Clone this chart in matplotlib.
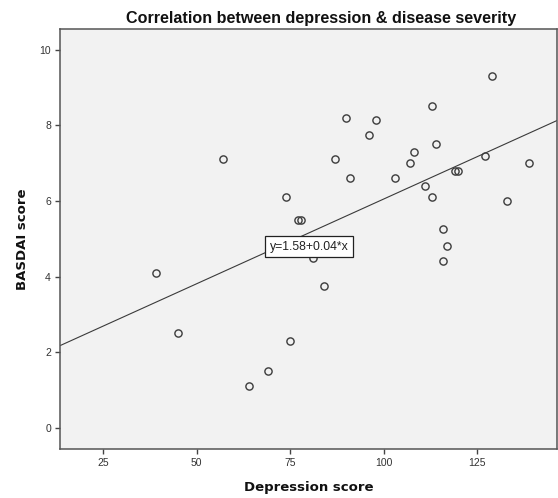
import numpy as np
import matplotlib
matplotlib.use("Agg")
import matplotlib.pyplot as plt

# depression score vs BASDAI score
depression = [39, 45, 57, 64, 69, 74, 75, 77, 78, 81, 84, 87, 90, 91, 96, 98,
              103, 107, 108, 111, 113, 113, 114, 116, 117, 116, 119, 120, 127,
              129, 133, 139]
basdai = [4.1, 2.5, 7.1, 1.1, 1.5, 6.1, 2.3, 5.5, 5.5, 4.5, 3.75, 7.1, 8.2, 6.6,
          7.75, 8.15, 6.6, 7.0, 7.3, 6.4, 6.1, 8.5, 7.5, 5.25, 4.8, 4.4, 6.8, 6.8,
          7.2, 9.3, 6.0, 7.0]
x_ticks = [25, 50, 75, 100, 125]
y_ticks = [0, 2, 4, 6, 8, 10]
fit_label = "y=1.58+0.04*x"

plt.rcParams["font.family"] = ["Liberation Sans", "DejaVu Sans"]

fig = plt.figure(figsize=(5.58, 4.98), dpi=100, facecolor="white")
ax = fig.add_axes([60 / 558, 1 - 448.7 / 498, 497 / 558, 419.8 / 498])
ax.set_facecolor("#f2f2f2")

xlim = (13.4, 146.4)
ax.set_xlim(*xlim)
ax.set_ylim(-0.55, 10.55)

# regression line from the data
slope, intercept = np.polyfit(depression, basdai, 1)
xs = np.array(xlim)
ax.plot(xs, intercept + slope * xs, color="#3a3a3a", lw=0.8, zorder=2)

ax.plot(depression, basdai, linestyle="none", marker="o", ms=5.2,
        mfc="none", mec="#3c3c3c", mew=1.0, zorder=3)

ax.text(80, 4.79, fit_label, ha="center", va="center", fontsize=8.8,
        color="#222222", zorder=4,
        bbox=dict(boxstyle="square,pad=0.35", fc="white", ec="#222222", lw=0.9))

ax.set_xticks(x_ticks)
ax.set_yticks(y_ticks)
ax.tick_params(direction="out", length=3.5, width=1.0, color="#444444",
               labelsize=7.5, labelcolor="#333333", pad=3)
for s in ax.spines.values():
    s.set_color("#555555")
    s.set_linewidth(1.1)

ax.set_xlabel("Depression score", family="DejaVu Sans", fontweight="bold",
              fontsize=9.5, color="#111111", va="center")
ax.xaxis.set_label_coords(0.5, (448.7 - 487) / 419.8)
ax.set_ylabel("BASDAI score", family="DejaVu Sans", fontweight="bold",
              fontsize=9.5, color="#111111", va="center")
ax.yaxis.set_label_coords((22.7 - 60) / 497, 0.5)

fig.text(321 / 558, 1 - 18 / 498, "Correlation between depression & disease severity",
         ha="center", va="center", fontsize=11.6, fontweight="bold", color="#111111")

fig.savefig("out.png", dpi=100)
